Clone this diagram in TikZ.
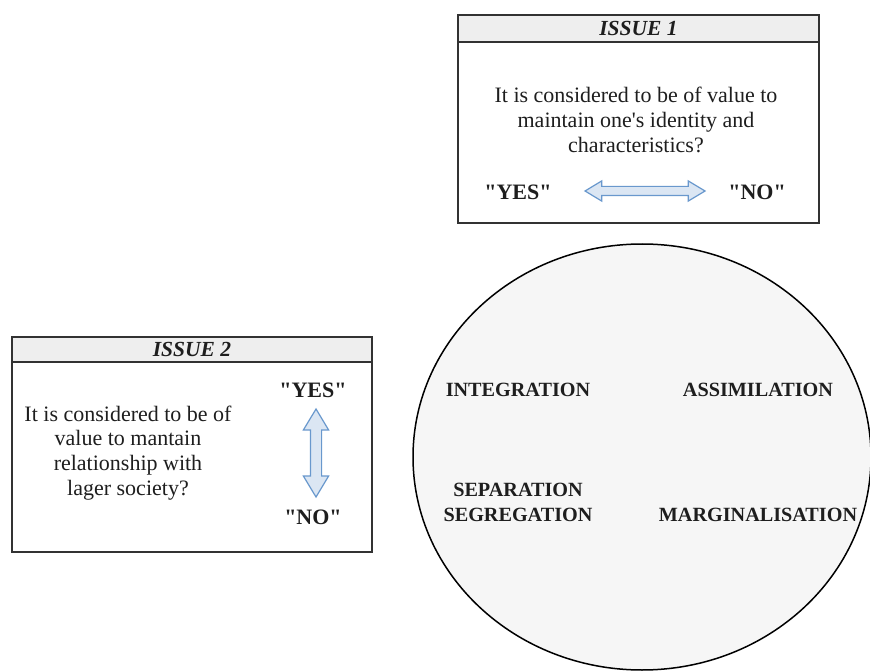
\documentclass[tikz,border=0pt]{standalone}
\usepackage{fontspec}
\setmainfont{Liberation Serif}[Ligatures=TeXOff]
\usetikzlibrary{shapes.arrows,shapes.geometric}
\definecolor{hdrfill}{RGB}{238,238,238}
\definecolor{ellfill}{RGB}{246,246,246}
\definecolor{arrfill}{RGB}{219,230,243}
\definecolor{arrline}{RGB}{105,152,205}
\definecolor{boxline}{RGB}{50,50,50}
\definecolor{txt}{RGB}{30,30,30}
\tikzset{
  panel/.style={draw=boxline, line width=1.4pt, fill=white, inner sep=0pt},
  header/.style={draw=boxline, line width=1.4pt, fill=hdrfill, inner sep=0pt},
  body/.style={text=txt, font=\fontsize{22}{24.8}\selectfont, align=center, inner sep=0pt},
  title/.style={text=txt, font=\fontsize{21.5}{24}\selectfont\bfseries\itshape, inner sep=0pt},
  answer/.style={text=txt, font=\fontsize{22}{24}\selectfont\bfseries, inner sep=0pt},
  strategy/.style={text=txt, font=\fontsize{20.2}{25}\selectfont\bfseries, align=center, inner sep=0pt},
  dblarrow/.style={shape=double arrow, draw=arrline, fill=arrfill, line width=1.2pt,
    double arrow tip angle=62},
}
\begin{document}
\begin{tikzpicture}[x=1pt,y=-1pt]
\useasboundingbox (0,0) rectangle (870,671);
% ellipse
\node[draw=black, line width=1.5pt, fill=ellfill, ellipse, minimum width=458pt, minimum height=426pt, inner sep=0pt] (ell) at (642,457) {};
% issue 1
\node[panel, minimum width=361pt, minimum height=208pt] (box1) at (638.5,119) {};
\node[header, minimum width=361pt, minimum height=27pt] (hdr1) at (638.5,28.5) {};
\node[title] (t1) at (638.5,28.5) {ISSUE 1};
\node[body] (q1) at (636,120) {It is considered to be of value to\\maintain one's identity and\\characteristics?};
\node[answer] (yes1) at (518,192) {"YES"};
\node[answer] (no1) at (757,192) {"NO"};
\node[dblarrow, minimum height=120pt, inner sep=4pt, double arrow head extend=5.5pt] (a1) at (645,191) {};
% issue 2
\node[panel, minimum width=360pt, minimum height=215pt] (box2) at (192,444.5) {};
\node[header, minimum width=360pt, minimum height=25pt] (hdr2) at (192,349.5) {};
\node[title] (t2) at (192,349.5) {ISSUE 2};
\node[body] (q2) at (128,453) {It is considered to be of\\value to mantain\\relationship with\\lager society?};
\node[answer] (yes2) at (313,390) {"YES"};
\node[answer] (no2) at (313,517) {"NO"};
\node[dblarrow, minimum height=88pt, inner sep=5pt, double arrow head extend=7pt, shape border rotate=90] (a2) at (316,453) {};
% strategies
\node[strategy] (integ) at (518,390) {INTEGRATION};
\node[strategy] (assim) at (758,390) {ASSIMILATION};
\node[strategy] (sep) at (518,502) {SEPARATION\\SEGREGATION};
\node[strategy] (marg) at (758,515) {MARGINALISATION};
\end{tikzpicture}
\end{document}
